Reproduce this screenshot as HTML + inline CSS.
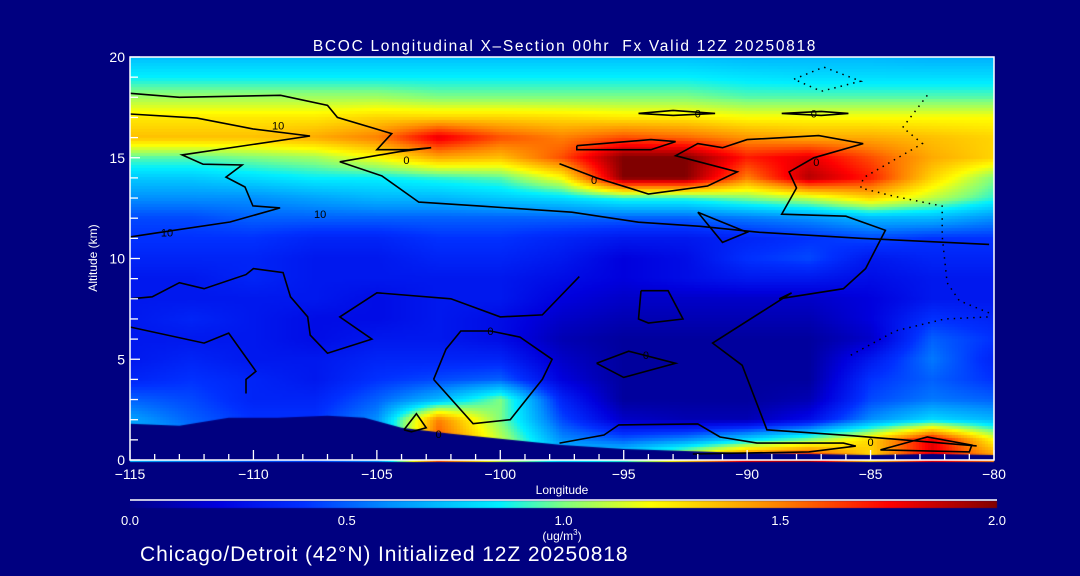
<!DOCTYPE html>
<html><head><meta charset="utf-8"><style>
html,body{margin:0;padding:0;background:#000080;}
#wrap{position:relative;width:1080px;height:576px;background:#000080;overflow:hidden;}
canvas{position:absolute;left:0;top:0;}
svg{position:absolute;left:0;top:0;}
text{font-family:"Liberation Sans",sans-serif;fill:#fff;}
</style></head><body>
<div id="wrap">
<canvas id="heat" width="1080" height="576"></canvas>
<svg id="ov" width="1080" height="576"></svg>
</div>
<script>
// ---- data ----
const lons = [-115,-112.5,-110,-107.5,-105,-102.5,-100,-97.5,-95,-92.5,-90,-87.5,-85,-82.5,-80];
const alts = [20,19,18,17,16,15,14,13,12,11,10,9,8,7,6,5,4,3,2,1,0];
const conc = [
[0.72,0.72,0.72,0.72,0.72,0.72,0.72,0.72,0.72,0.72,0.7,0.7,0.7,0.68,0.68],
[0.85,0.85,0.85,0.85,0.85,0.85,0.85,0.85,0.85,0.85,0.82,0.8,0.8,0.8,0.8],
[1.05,1.05,1.05,1.05,1.05,1.0,1.0,1.0,1.0,1.0,0.95,0.95,0.95,0.95,0.95],
[1.25,1.25,1.25,1.25,1.3,1.3,1.3,1.28,1.25,1.25,1.2,1.2,1.2,1.2,1.2],
[1.35,1.35,1.35,1.4,1.5,1.8,1.6,1.5,1.6,1.55,1.45,1.4,1.4,1.35,1.3],
[0.95,0.95,1.0,1.05,1.2,1.4,1.35,1.6,2.0,2.0,1.7,1.8,1.6,1.4,1.3],
[0.75,0.75,0.8,0.85,0.85,0.9,0.95,1.2,2.0,2.0,1.5,1.9,1.7,1.3,1.0],
[0.6,0.6,0.6,0.65,0.7,0.7,0.75,0.8,0.9,0.9,1.0,1.1,1.3,1.1,0.9],
[0.45,0.45,0.5,0.5,0.5,0.5,0.5,0.5,0.5,0.5,0.55,0.6,0.7,0.7,0.6],
[0.4,0.4,0.4,0.35,0.35,0.4,0.4,0.35,0.3,0.3,0.35,0.4,0.45,0.4,0.4],
[0.35,0.35,0.35,0.3,0.3,0.35,0.35,0.3,0.2,0.25,0.4,0.45,0.3,0.35,0.35],
[0.3,0.3,0.35,0.3,0.3,0.3,0.3,0.25,0.2,0.25,0.3,0.3,0.25,0.3,0.3],
[0.3,0.3,0.3,0.3,0.25,0.3,0.3,0.2,0.15,0.15,0.15,0.15,0.2,0.3,0.3],
[0.3,0.35,0.3,0.25,0.25,0.3,0.25,0.15,0.1,0.1,0.1,0.1,0.2,0.4,0.35],
[0.3,0.3,0.3,0.25,0.3,0.3,0.25,0.1,0.05,0.05,0.05,0.05,0.15,0.5,0.4],
[0.3,0.35,0.3,0.3,0.35,0.35,0.35,0.15,0.05,0.05,0.05,0.05,0.3,0.55,0.35],
[0.35,0.4,0.35,0.3,0.4,0.45,0.5,0.2,0.05,0.05,0.05,0.05,0.4,0.5,0.4],
[0.5,0.45,0.35,0.35,0.5,0.7,1.0,0.35,0.05,0.05,0.05,0.1,0.45,0.55,0.5],
[0.65,0.5,0.4,0.4,0.6,1.5,1.0,0.45,0.15,0.1,0.1,0.25,0.6,0.8,0.7],
[0.7,0.6,0.5,0.45,0.6,1.6,1.1,0.6,0.5,0.6,0.8,1.0,1.3,1.8,1.2],
[0.7,0.6,0.5,0.45,0.6,1.6,1.1,0.8,0.9,1.3,1.8,1.9,1.3,1.8,1.5]
];
const terrainLon = [-115,-113,-111,-109,-107,-105.5,-104,-102,-100,-97.5,-95,-92.5,-90,-87.5,-85,-82.5,-80];
const terrainAlt = [1.8,1.7,2.1,2.1,2.2,2.1,1.6,1.3,1.05,0.75,0.55,0.45,0.35,0.3,0.25,0.3,0.25];
const xTickLabels = [-115,-110,-105,-100,-95,-90,-85,-80];
const yTickLabels = [0,5,10,15,20];
const cbarTickLabels = ["0.0","0.5","1.0","1.5","2.0"];
const cbarTickValues = [0,0.5,1,1.5,2];
const contourSolid = [
 {lon:[-115,-113.66,-110.95,-108.92,-110.02,-110.34,-111.11,-110.46,-112.04,-112.89,-107.71,-110.02,-112.29,-115],
  alt:[11.07,11.32,11.81,12.51,12.61,13.55,14.04,14.64,14.68,15.14,16.08,16.43,16.97,17.17]},
 {lon:[-115,-113,-108.9,-107,-106.6,-104.4,-105,-103.7,-102.8,-104.1,-106.5,-104.8,-103.3,-100.8,-97.1,-94.4,-91.9,-89.5,-85.4,-80.2],
  alt:[18.2,18.0,18.1,17.6,17.0,16.2,15.4,15.4,15.5,15.3,14.8,14.1,12.8,12.6,12.3,11.8,11.6,11.3,11.0,10.7]},
 {lon:[-97.6,-96.1,-94.0,-91.6,-90.4,-92.9,-92.0,-91.0,-90.0,-87.1,-85.3,-87.3,-88.3,-88.0,-88.6,-86.0,-84.4,-85.2,-86.1,-88.7,-88.2,-91.4,-90.2,-89.2,-85.7,-80.7],
  alt:[14.7,14.0,13.2,13.6,14.3,15.1,15.7,15.5,15.9,16.1,15.7,15.0,14.3,13.5,12.2,12.1,11.4,9.5,8.5,8.0,8.3,5.8,4.7,1.5,1.2,0.7]},
 {lon:[-96.9,-93.9,-92.9,-93.9,-96.9,-96.9],alt:[15.6,15.9,15.8,15.4,15.4,15.6]},
 {lon:[-94.4,-93,-91.3,-93,-94.4],alt:[17.2,17.35,17.2,17.1,17.2]},
 {lon:[-88.6,-87,-85.9,-87,-88.6],alt:[17.2,17.3,17.2,17.1,17.2]},
 {lon:[-92.0,-90.0,-91.0,-92.0],alt:[12.3,11.3,10.8,12.3]},
 {lon:[-94.3,-93.2,-92.6,-94.0,-94.4,-94.3],alt:[8.4,8.4,7.0,6.8,7.0,8.4]},
 {lon:[-96.1,-94.8,-92.9,-95.0,-96.1],alt:[4.8,5.4,4.8,4.1,4.8]},
 {lon:[-115,-114.1,-113,-112,-110.3,-110,-108.8,-108.5,-107.8,-107.7,-107,-105.2,-106.5,-105,-102,-100,-98.3,-96.8],
  alt:[8.0,8.1,8.8,8.5,9.2,9.5,9.3,8.1,7.1,6.2,5.3,6.0,7.1,8.3,8.0,7.1,7.2,9.1]},
 {lon:[-115,-112,-111,-109.9,-110.3,-110.3],alt:[6.6,5.8,6.3,4.4,4.0,3.3]},
 {lon:[-102.7,-102.2,-101.6,-100.4,-99.2,-97.9,-98.3,-99.6,-101.1,-102.7],alt:[4.0,5.5,6.4,6.4,6.1,5.0,4.0,2.0,1.8,4.0]},
 {lon:[-97.6,-95.8,-95.2,-92.0,-91.1,-89.6,-86.1,-85.6,-87.5,-92.2],alt:[0.84,1.24,1.74,1.79,1.14,0.84,0.84,0.69,0.4,0.3]},
 {lon:[-84.6,-82.7,-80.9,-81.0,-84.6],alt:[0.5,1.14,0.74,0.4,0.5]},
 {lon:[-103.9,-103.4,-103.0,-103.6,-103.9],alt:[1.5,2.3,1.6,1.4,1.5]}
];
const contourDotted = [
 {lon:[-82.7,-83.7,-82.9,-85.3,-85.4,-84.1,-82.1,-82.1,-81.9,-81.4,-80.2],alt:[18.1,16.5,15.7,14.0,13.5,13.1,12.6,11.1,8.8,7.9,7.3]},
 {lon:[-88.1,-86.9,-85.4,-87.0,-88.1],alt:[18.9,19.5,18.8,18.3,18.9]},
 {lon:[-85.8,-84,-82,-80.2],alt:[5.2,6.4,7.0,7.1]}
];
const contourLabels = [{t:"10",lon:-109,alt:16.6},{t:"10",lon:-113.5,alt:11.3},{t:"10",lon:-107.3,alt:12.2},{t:"0",lon:-103.8,alt:14.9},{t:"0",lon:-96.2,alt:13.9},{t:"0",lon:-92,alt:17.2},{t:"0",lon:-87.3,alt:17.2},{t:"0",lon:-87.2,alt:14.8},{t:"0",lon:-100.4,alt:6.4},{t:"0",lon:-94.1,alt:5.2},{t:"0",lon:-102.5,alt:1.3},{t:"0",lon:-85,alt:0.9}];

// ---- axes ----
const X0=130,X1=994,Y0=460,Y1=57;
const xs = lon => X0+(lon+115)/35*(X1-X0);
const ys = a => Y0-a/20*(Y0-Y1);
const stops=[[0,[0,0,136]],[0.2,[0,0,221]],[0.4,[0,48,255]],[0.6,[0,144,255]],[0.85,[0,240,255]],[1.0,[128,255,128]],[1.2,[255,255,0]],[1.5,[255,128,0]],[1.75,[255,0,0]],[2.0,[128,0,0]]];
function cmap(v){v=Math.max(0,Math.min(2,v));for(let i=1;i<stops.length;i++){if(v<=stops[i][0]){const a=stops[i-1],b=stops[i],t=(v-a[0])/(b[0]-a[0]);return a[1].map((c,k)=>Math.round(c+(b[1][k]-c)*t));}}return stops[stops.length-1][1];}
function field(lon,alt){
 let fi=(lon-lons[0])/(lons[1]-lons[0]); fi=Math.max(0,Math.min(lons.length-1.0001,fi));
 let fj=(alts[0]-alt)/(alts[0]-alts[1]); fj=Math.max(0,Math.min(alts.length-1.0001,fj));
 const i=Math.floor(fi),j=Math.floor(fj),u=fi-i,w=fj-j;
 return conc[j][i]*(1-u)*(1-w)+conc[j][i+1]*u*(1-w)+conc[j+1][i]*(1-u)*w+conc[j+1][i+1]*u*w;
}
const ctx=document.getElementById('heat').getContext('2d');
const step=3;
for(let px=X0;px<X1;px+=step){for(let py=Y1;py<Y0;py+=step){
 const lon=-115+(px+step/2-X0)/(X1-X0)*35, alt=(Y0-(py+step/2))/(Y0-Y1)*20;
 const c=cmap(field(lon,alt)); ctx.fillStyle=`rgb(${c[0]},${c[1]},${c[2]})`; ctx.fillRect(px,py,step,step);}}
// terrain
ctx.fillStyle='#000080';ctx.beginPath();ctx.moveTo(xs(terrainLon[0]),Y0);
terrainLon.forEach((l,i)=>ctx.lineTo(xs(l),ys(terrainAlt[i])));ctx.lineTo(xs(-80),Y0);ctx.closePath();ctx.fill();
// colorbar
for(let px=130;px<997;px++){const c=cmap((px-130)/(997-130)*2);ctx.fillStyle=`rgb(${c[0]},${c[1]},${c[2]})`;ctx.fillRect(px,501,1,7);}

const NS='http://www.w3.org/2000/svg',ov=document.getElementById('ov');
function mk(tag,attrs,parent){const e=document.createElementNS(NS,tag);for(const k in attrs)e.setAttribute(k,attrs[k]);(parent||ov).appendChild(e);return e;}
contourSolid.forEach(c=>{
 const p=mk('polyline',{points:c.lon.map((l,i)=>xs(l).toFixed(1)+','+ys(c.alt[i]).toFixed(1)).join(' '),fill:'none',stroke:'#000','stroke-width':1.6});
 
 
});
contourDotted.forEach(c=>{
 const p=mk('polyline',{points:c.lon.map((l,i)=>xs(l).toFixed(1)+','+ys(c.alt[i]).toFixed(1)).join(' '),fill:'none',stroke:'#000','stroke-width':1.5,'stroke-dasharray':'1.5 5'});
 
 
});
contourLabels.forEach(c=>{
 const t=mk('text',{x:xs(c.lon),y:ys(c.alt)+4,'font-size':11,'text-anchor':'middle',style:'fill:#000'});t.textContent=c.t;
 
 
});
// frame
const fr=mk('rect',{x:X0,y:Y1,width:X1-X0,height:Y0-Y1,fill:'none',stroke:'#fff','stroke-width':1.5});


for(let l=-115;l<=-80;l++){const major=(l%5===0);const t=mk('line',{x1:xs(l),x2:xs(l),y1:Y0,y2:Y0-(major?10:6),stroke:'#fff','stroke-width':1.3});
 
 }
for(let a=0;a<=20;a++){const major=(a%5===0);const t=mk('line',{x1:X0,x2:X0+(major?10:8),y1:ys(a),y2:ys(a),stroke:'#fff','stroke-width':1.3});
 
 }
xTickLabels.forEach(v=>{const t=mk('text',{x:xs(v),y:479,'font-size':14,'text-anchor':'middle'});t.textContent=String(v).replace('-','\u2212');
 
 });
yTickLabels.forEach(v=>{const t=mk('text',{x:125,y:ys(v)+5,'font-size':14,'text-anchor':'end'});t.textContent=v;
 
 });
const cbl=mk('line',{x1:130,x2:997,y1:500,y2:500,stroke:'#fff','stroke-width':1.5});


cbarTickValues.forEach((v,i)=>{const t=mk('text',{x:130+v/2*(997-130),y:525,'font-size':13,'text-anchor':'middle'});t.textContent=cbarTickLabels[i];
 
 });
</script>
<svg width="1080" height="576" style="position:absolute;left:0;top:0;pointer-events:none">
<text x="565" y="51" font-size="15.5" text-anchor="middle" style="letter-spacing:1.7px">BCOC Longitudinal X&#8211;Section 00hr&#160;&#160;Fx Valid 12Z 20250818</text>
<text x="97" y="258" font-size="12" text-anchor="middle" transform="rotate(-90 97 258)">Altitude (km)</text>
<text x="562" y="494" font-size="12" text-anchor="middle">Longitude</text>
<text x="562" y="540" font-size="12" text-anchor="middle">(ug/m<tspan font-size="8" dy="-5">3</tspan><tspan dy="5">)</tspan></text>
<text x="140" y="561" font-size="21" style="letter-spacing:0.9px">Chicago/Detroit (42°N) Initialized 12Z 20250818</text>
</svg>
</body></html>
